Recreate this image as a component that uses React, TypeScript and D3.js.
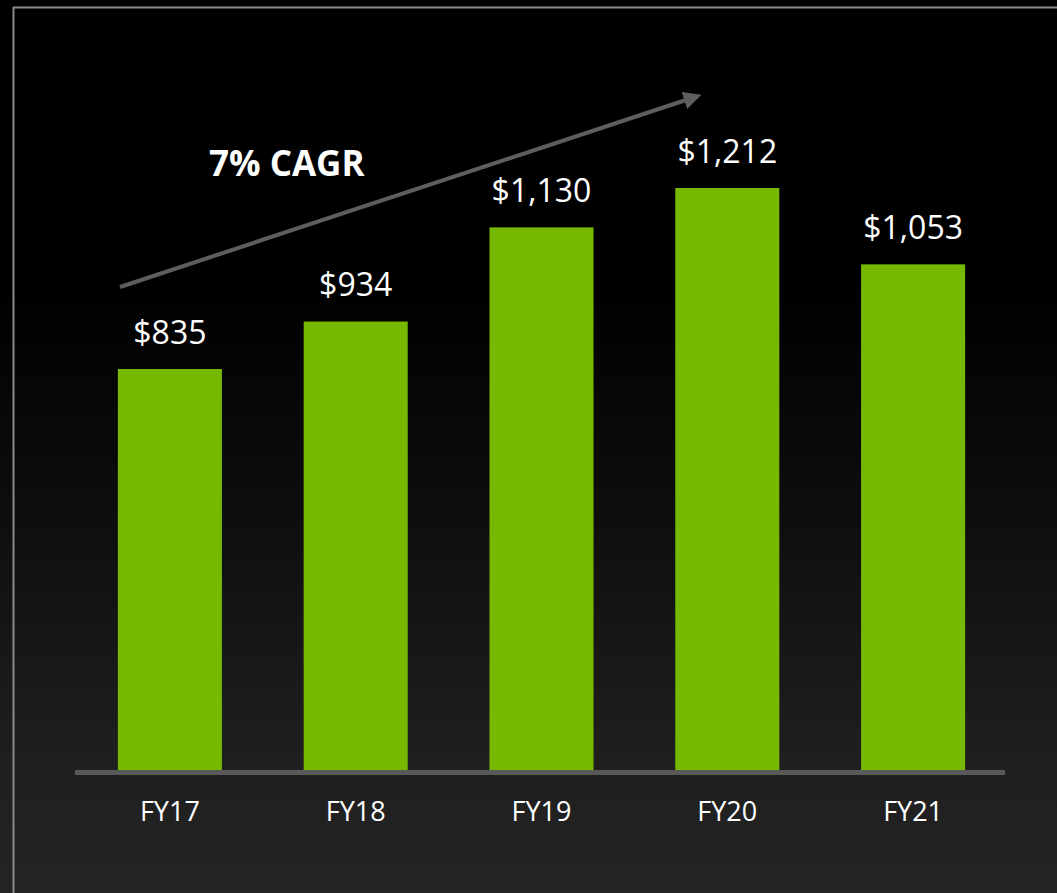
import React from "react";
import * as d3 from "d3";

const categories = ["FY17", "FY18", "FY19", "FY20", "FY21"];
const values = [835, 934, 1130, 1212, 1053];
const valueLabels = ["$835", "$934", "$1,130", "$1,212", "$1,053"];
const annotation = "7% CAGR";

const W = 1057;
const H = 893;

export default function App() {
  const x = d3
    .scaleBand<string>()
    .domain(categories)
    .range([77, 1006])
    .paddingInner(0.44)
    .paddingOuter(0.22);
  const baseY = 770;
  const y = d3.scaleLinear().domain([0, 1212]).range([baseY, 188]);
  const font = "'Open Sans', 'Noto Sans', sans-serif";

  return (
    <svg
      width={W}
      height={H}
      style={{ position: "absolute", left: 0, top: 0, display: "block" }}
    >
      <defs>
        <linearGradient id="bg" x1="0" y1="0" x2="0" y2="1">
          <stop offset="0" stopColor="#000" />
          <stop offset="0.32" stopColor="#000" />
          <stop offset="0.6" stopColor="#0f0f0f" />
          <stop offset="0.85" stopColor="#1f1f1f" />
          <stop offset="1" stopColor="#242424" />
        </linearGradient>
        <marker
          id="arrow"
          viewBox="0 0 10 10"
          refX="8"
          refY="5"
          markerWidth="4.5"
          markerHeight="4.5"
          orient="auto"
        >
          <path d="M0,0 L10,5 L0,10 Z" fill="#5e5e5e" />
        </marker>
      </defs>
      <rect x={0} y={0} width={W} height={H} fill="url(#bg)" />
      {/* frame lines */}
      <line x1={13.5} y1={7} x2={13.5} y2={H} stroke="#8a8a8a" strokeWidth={2} />
      <line x1={13} y1={7.5} x2={W} y2={7.5} stroke="#8a8a8a" strokeWidth={2} />

      {/* bars */}
      {categories.map((c, i) => (
        <rect
          key={c}
          x={x(c)}
          y={y(values[i])}
          width={x.bandwidth()}
          height={baseY - y(values[i])}
          fill="#76b900"
        />
      ))}

      {/* baseline */}
      <rect x={75} y={baseY} width={930} height={5} fill="#595959" />

      {/* value labels */}
      {categories.map((c, i) => (
        <text
          key={"v" + c}
          x={(x(c) as number) + x.bandwidth() / 2}
          y={y(values[i]) - 25}
          textAnchor="middle"
          fill="#ffffff"
          fontFamily={font}
          fontSize={32}
        >
          {valueLabels[i]}
        </text>
      ))}

      {/* category labels */}
      {categories.map((c) => (
        <text
          key={"c" + c}
          x={(x(c) as number) + x.bandwidth() / 2}
          y={821}
          textAnchor="middle"
          fill="#ffffff"
          fontFamily={font}
          fontSize={27}
        >
          {c}
        </text>
      ))}

      {/* CAGR arrow */}
      <line
        x1={120}
        y1={287}
        x2={698}
        y2={96}
        stroke="#5e5e5e"
        strokeWidth={4}
        markerEnd="url(#arrow)"
      />
      <text
        x={209}
        y={176}
        fill="#ffffff"
        fontFamily={font}
        fontWeight="bold"
        fontSize={35}
      >
        {annotation}
      </text>
    </svg>
  );
}
